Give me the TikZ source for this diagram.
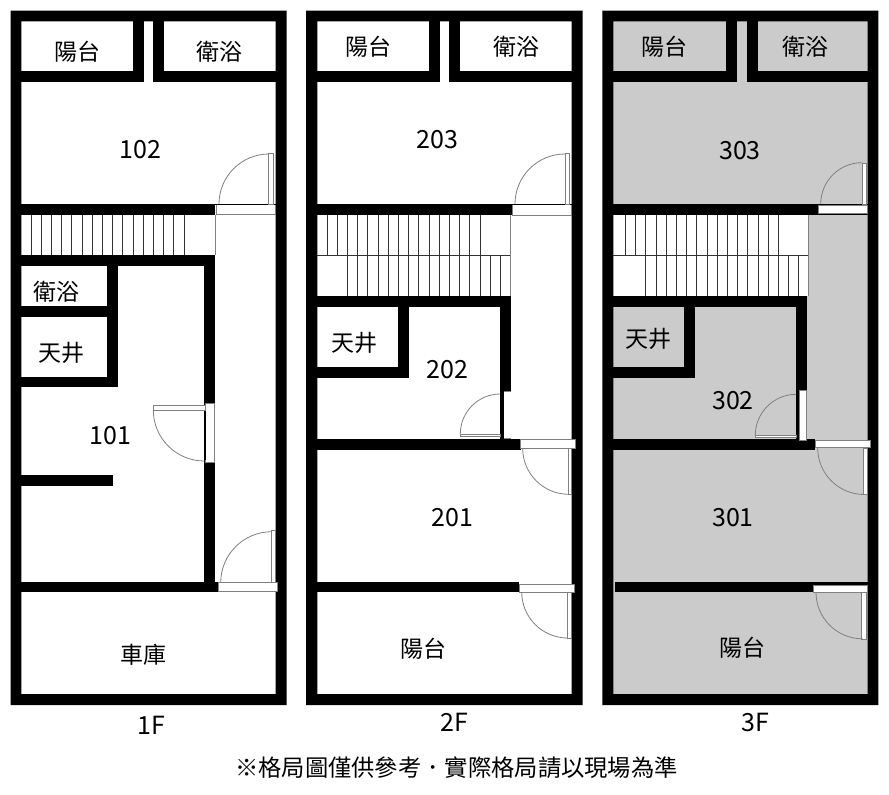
\documentclass[tikz,border=0pt]{standalone}
\usepackage{fontspec}
\setmainfont{Noto Sans CJK TC}
\tikzset{
 wall/.style={fill=black},
 gray room/.style={fill=roomgray},
 sill/.style={draw=doorgray,line width=0.8pt,fill=white},
 leaf/.style={draw=doorgray,line width=0.8pt,fill=white},
 swing/.style={draw=doorgray,line width=0.8pt},
 tread/.style={draw=black!80,line width=0.7pt},
 room label/.style={inner sep=0pt,font=\fontsize{23}{27}\selectfont},
 num label/.style={inner sep=0pt,xshift=0.7pt,yshift=-0.8pt,font=\fontsize{25}{29}\selectfont},
}
\definecolor{roomgray}{HTML}{CBCBCB}
\definecolor{doorgray}{HTML}{808080}
\begin{document}
\begin{tikzpicture}[x=1pt,y=-1pt]
 \useasboundingbox (0,0) rectangle (889,795);
 \fill[white] (0,0) rectangle (889,795);
 \fill[gray room] (613.3,21.3) rectangle (867.7,694);
 \fill[white] (613.3,215) rectangle (808.7,296);
 \fill[wall,even odd rule] (10.7,10.7) rectangle (286.7,705) (21.3,21.3) rectangle (275.7,694);
 \fill[wall,even odd rule] (306,10.7) rectangle (582.7,705) (317.3,21.3) rectangle (571.7,694);
 \fill[wall,even odd rule] (602.3,10.7) rectangle (878.3,705) (613.3,21.3) rectangle (867.7,694);
 % 1F
 \fill[wall] (132.7,21.3) rectangle (144,82.3);
 \fill[wall] (153.3,21.3) rectangle (164,82.3);
 \fill[wall] (21.3,71.3) rectangle (144,82.3);
 \fill[wall] (153.3,71.3) rectangle (275.7,82.3);
 \fill[wall] (21.3,204) rectangle (215,215);
 \fill[wall] (21.3,255) rectangle (215,266);
 \fill[wall] (204,255) rectangle (215,592);
 \fill[wall] (107.3,266) rectangle (118.3,387.3);
 \fill[wall] (21.3,306) rectangle (118.3,317.3);
 \fill[wall] (21.3,376.7) rectangle (118.3,387.3);
 \fill[wall] (21.3,474.7) rectangle (113.3,485.7);
 \fill[wall] (21.3,581.7) rectangle (218.3,592.3);
 \foreach \i in {0,...,15} \draw[tread] ({31+10.2*\i},215) -- ({31+10.2*\i},255);
 \draw[swing] (215,215) -- (215,255);
 \draw[sill] (216.7,204.7) rectangle (275.3,214.7);
 \draw[black,line width=0.7pt] (215,204.6) -- (275.7,204.6);
 \draw[leaf] (268.7,153.5) rectangle (273.3,204);
 \draw[swing] (219,204) arc[start angle=180,end angle=90,radius=50pt];
 \draw[sill] (205,403.3) rectangle (214.3,462.7);
 \draw[black,line width=0.7pt] (205,410) -- (205,460);
 \draw[leaf] (153.3,405.3) rectangle (205,410);
 \draw[swing] (153.3,410) arc[start angle=180,end angle=270,radius=51pt];
 \draw[sill] (218.3,582.7) rectangle (277.3,591.5);
 \draw[leaf] (271.7,530.7) rectangle (275.3,582.7);
 \draw[swing] (220.7,582.7) arc[start angle=180,end angle=90,radius=51pt];
 % 2F
 \fill[wall] (428.7,21.3) rectangle (439.7,82.3);
 \fill[wall] (449.3,21.3) rectangle (460.3,82.3);
 \fill[wall] (317.3,71.3) rectangle (439.7,82.3);
 \fill[wall] (449.3,71.3) rectangle (571.7,82.3);
 \fill[wall] (317.3,204.3) rectangle (512.3,215);
 \fill[wall] (317.3,295.7) rectangle (510.7,306.7);
 \fill[wall] (398.3,306.7) rectangle (409.3,378.3);
 \fill[wall] (317.3,367.3) rectangle (409.3,378.3);
 \fill[wall] (500,306.7) rectangle (511,391.7);
 \fill[wall] (500,391.7) rectangle (504,439);
 \fill[wall] (317.3,439) rectangle (520.7,450);
 \fill[wall] (317.3,581.7) rectangle (519.3,592.3);
 \foreach \i in {0,...,15} \draw[tread] ({327+10.2*\i},215) -- ({327+10.2*\i},255.3);
 \foreach \i in {0,...,15} \draw[tread] ({347.3+10.2*\i},255.3) -- ({347.3+10.2*\i},295.7);
 \draw[tread] (317.3,255.3) -- (510.7,255.3);
 \draw[swing] (510.7,215) -- (510.7,295.7);
 \draw[sill] (512.7,204.7) rectangle (571.7,215);
 \draw[black,line width=0.7pt] (512.3,204.6) -- (571.7,204.6);
 \draw[leaf] (565,153.3) rectangle (569.3,204.3);
 \draw[swing] (515,204) arc[start angle=180,end angle=90,radius=50pt];
 \draw[swing] (504,391.2) -- (511,391.2);
 \draw[swing] (504,438.4) -- (511,438.4);
 \draw[leaf] (460.3,434) rectangle (500,436.7);
 \draw[swing] (460.3,434) arc[start angle=180,end angle=90,radius=40pt];
 \draw[sill] (520.7,439.7) rectangle (575,448.3);
 \draw[leaf] (568.3,448.3) rectangle (571.7,494.7);
 \draw[swing] (522.7,448.3) arc[start angle=180,end angle=270,radius=46pt];
 \draw[sill] (519.3,584) rectangle (574,592);
 \draw[leaf] (567.7,592) rectangle (571.7,638.3);
 \draw[swing] (521.7,592) arc[start angle=180,end angle=270,radius=46pt];
 % 3F
 \fill[wall] (725.7,21.3) rectangle (737,82.3);
 \fill[wall] (747.3,21.3) rectangle (758,82.3);
 \fill[wall] (613.3,71.3) rectangle (737,82.3);
 \fill[wall] (747.3,71.3) rectangle (867.7,82.3);
 \fill[wall] (613.3,204.3) rectangle (867.7,215);
 \fill[wall] (613.3,296) rectangle (807.3,306.7);
 \fill[wall] (684,306.7) rectangle (695,378.3);
 \fill[wall] (613.3,367.3) rectangle (695,378.3);
 \fill[wall] (796,306.7) rectangle (807,390);
 \fill[wall] (796,390) rectangle (799,439);
 \fill[wall] (613.3,439) rectangle (815,450);
 \fill[wall] (614.7,581.7) rectangle (867.7,592.3);
 \foreach \i in {0,...,15} \draw[tread] ({625.3+10.2*\i},215) -- ({625.3+10.2*\i},255.3);
 \foreach \i in {0,...,15} \draw[tread] ({645.7+10.2*\i},255.3) -- ({645.7+10.2*\i},296);
 \draw[tread] (613.3,255.3) -- (808.7,255.3);
 \draw[swing] (808.7,215) -- (808.7,296);
 \draw[sill] (818.3,205.6) rectangle (867.7,213);
 \draw[leaf] (862,163.3) rectangle (866.7,204.3);
 \draw[swing] (820.7,204) arc[start angle=180,end angle=90,radius=41.3pt];
 \draw[sill] (799,390.7) rectangle (806,440);
 \draw[leaf] (755.3,435.3) rectangle (796,437.3);
 \draw[swing] (755.3,435.3) arc[start angle=180,end angle=90,radius=41pt];
 \draw[sill] (815,440) rectangle (870,447.7);
 \draw[leaf] (863.3,448) rectangle (867.7,494.7);
 \draw[swing] (817.7,448) arc[start angle=180,end angle=270,radius=46.5pt];
 \draw[sill] (813.3,585) rectangle (867.7,592.3);
 \draw[leaf] (861.7,592.3) rectangle (866.7,639.3);
 \draw[swing] (816,592.3) arc[start angle=180,end angle=270,radius=46.5pt];
 % labels
 \node[room label] (balcony1) at (77,52) {陽台};
 \node[room label] (bath1) at (219,52) {衛浴};
 \node[num label] (room102) at (140,149) {102};
 \node[room label] (bath1b) at (56.5,291.7) {衛浴};
 \node[room label] (well1) at (61.5,352.7) {天井};
 \node[num label] (room101) at (110,435) {101};
 \node[room label] (garage) at (143,655) {車庫};
 \node[num label] (floor1) at (151,725) {1F};
 \node[room label] (balcony2) at (368,46.7) {陽台};
 \node[room label] (bath2) at (516,47) {衛浴};
 \node[num label] (room203) at (437,139) {203};
 \node[room label] (well2) at (354.3,342.7) {天井};
 \node[num label] (room202) at (446.7,369) {202};
 \node[num label] (room201) at (451.7,516.7) {201};
 \node[room label] (balcony2b) at (423.7,648.3) {陽台};
 \node[num label] (floor2) at (454,722) {2F};
 \node[room label] (balcony3) at (664,47) {陽台};
 \node[room label] (bath3) at (805.7,47) {衛浴};
 \node[num label] (room303) at (739.3,149.3) {303};
 \node[room label] (well3) at (648.3,339.3) {天井};
 \node[num label] (room302) at (732.3,399.3) {302};
 \node[num label] (room301) at (732.3,516.7) {301};
 \node[room label] (balcony3b) at (742,648) {陽台};
 \node[num label] (floor3) at (755,722) {3F};
 \node[inner sep=0pt,font=\fontsize{23.3}{27}\selectfont] (note) at (456.5,768) {※格局圖僅供參考．實際格局請以現場為準};
\end{tikzpicture}
\end{document}
